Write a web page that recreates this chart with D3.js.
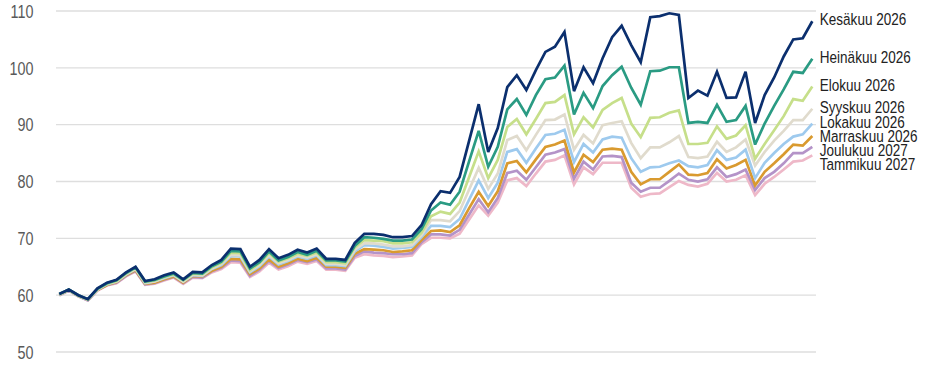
<!DOCTYPE html>
<html>
<head>
<meta charset="utf-8">
<script src="https://cdn.jsdelivr.net/npm/d3@7"></script>
<style>
  html, body { margin: 0; padding: 0; background: #fff; }
  svg { display: block; }
  text { font-family: "Liberation Sans", Arial, sans-serif; }
</style>
</head>
<body>
<svg id="chart" width="929" height="366"></svg>
<script>
// ---- Data ----
const seriesNames = ["Kesäkuu 2026", "Heinäkuu 2026", "Elokuu 2026", "Syyskuu 2026",
                     "Lokakuu 2026", "Marraskuu 2026", "Joulukuu 2027", "Tammikuu 2027"];
const yTicks = [50, 60, 70, 80, 90, 100, 110];

const kesakuu = [60.2, 61.0, 60.0, 59.3, 61.2, 62.2, 62.7, 64.0, 65.0, 62.5,
  62.8, 63.5, 64.0, 62.8, 64.1, 64.0, 65.3, 66.2, 68.2, 68.1,
  65.0, 66.2, 68.1, 66.5, 67.1, 68.0, 67.5, 68.2, 66.4, 66.4,
  66.2, 69.2, 70.8, 70.8, 70.6, 70.2, 70.2, 70.4, 72.3, 76.0,
  78.3, 78.0, 80.8, 87.2, 93.6, 85.2, 89.4, 96.6, 98.7, 96.1,
  99.6, 102.8, 103.7, 106.3, 95.9, 100.1, 97.3, 101.7, 105.4, 107.4,
  104.0, 101.0, 108.9, 109.1, 109.6, 109.3, 94.7, 96.0, 95.1, 99.3,
  94.7, 94.8, 99.3, 90.3, 95.2, 98.3, 102.0, 105.0, 105.2, 108.2];

const heinakuu = [60.2, 61.0, 60.0, 59.3, 61.1, 62.1, 62.6, 63.9, 64.9, 62.4,
  62.7, 63.3, 63.8, 62.7, 63.9, 63.8, 65.1, 65.9, 67.8, 67.7,
  64.7, 65.8, 67.7, 66.1, 66.7, 67.6, 67.1, 67.8, 66.1, 66.1,
  65.9, 68.7, 70.2, 70.1, 69.9, 69.6, 69.6, 69.8, 71.6, 74.9,
  76.3, 75.9, 78.2, 83.6, 88.9, 82.6, 86.1, 92.7, 94.5, 91.7,
  95.2, 98.0, 98.3, 100.4, 91.8, 95.6, 92.9, 96.8, 98.7, 100.2,
  96.5, 93.5, 99.4, 99.5, 100.1, 100.1, 90.3, 90.5, 90.3, 93.5,
  90.5, 90.8, 93.3, 86.5, 90.2, 93.3, 96.2, 99.3, 99.1, 101.6];

const elokuu = [60.1, 60.9, 59.9, 59.2, 61.1, 62.0, 62.5, 63.8, 64.8, 62.3,
  62.6, 63.2, 63.7, 62.6, 63.8, 63.7, 64.9, 65.7, 67.5, 67.4,
  64.4, 65.6, 67.4, 65.9, 66.5, 67.3, 66.9, 67.5, 65.8, 65.8,
  65.6, 68.4, 69.7, 69.6, 69.5, 69.1, 69.1, 69.3, 71.0, 73.9,
  74.7, 74.3, 76.3, 80.8, 85.3, 80.6, 83.8, 89.6, 91.0, 88.3,
  91.0, 93.8, 94.0, 95.2, 88.3, 91.3, 89.5, 92.6, 93.8, 94.7,
  90.2, 87.8, 91.2, 91.3, 92.1, 92.5, 86.6, 86.6, 86.8, 89.7,
  87.5, 88.1, 89.9, 84.0, 86.6, 89.0, 91.5, 94.5, 94.2, 96.7];

const syyskuu = [60.1, 60.9, 59.9, 59.2, 61.0, 62.0, 62.4, 63.7, 64.6, 62.2,
  62.4, 63.1, 63.6, 62.4, 63.6, 63.5, 64.7, 65.5, 67.1, 67.0,
  64.2, 65.3, 67.0, 65.6, 66.2, 67.0, 66.6, 67.2, 65.5, 65.5,
  65.3, 68.0, 69.1, 69.1, 68.9, 68.6, 68.6, 68.8, 70.5, 73.2,
  73.2, 73.0, 74.8, 78.6, 82.4, 78.7, 81.4, 87.3, 88.0, 85.5,
  88.2, 90.8, 90.9, 91.8, 85.6, 88.2, 86.7, 89.9, 90.3, 90.6,
  86.8, 84.1, 86.0, 86.0, 86.9, 88.0, 84.3, 84.1, 84.4, 87.0,
  85.2, 86.0, 87.4, 82.8, 85.2, 87.2, 88.9, 90.8, 90.8, 92.8];

const lokakuu = [60.1, 60.9, 59.9, 59.2, 61.0, 61.9, 62.4, 63.6, 64.6, 62.1,
  62.4, 63.0, 63.5, 62.4, 63.5, 63.4, 64.6, 65.3, 66.9, 66.8,
  64.0, 65.1, 66.8, 65.4, 66.0, 66.8, 66.4, 67.0, 65.3, 65.3,
  65.1, 67.7, 68.8, 68.7, 68.5, 68.2, 68.3, 68.5, 70.2, 72.2,
  72.2, 72.0, 73.4, 76.8, 80.2, 77.1, 79.8, 85.2, 85.7, 83.3,
  85.8, 88.2, 88.4, 89.1, 83.4, 86.6, 85.1, 87.4, 87.9, 87.7,
  84.1, 81.7, 82.5, 82.6, 83.2, 83.7, 82.7, 82.5, 82.9, 85.5,
  83.8, 84.2, 85.6, 80.6, 83.3, 85.0, 86.6, 87.9, 88.3, 90.2];

const marraskuu = [60.1, 60.9, 59.9, 59.2, 60.9, 61.8, 62.3, 63.5, 64.4, 62.0,
  62.2, 62.8, 63.3, 62.2, 63.4, 63.3, 64.3, 65.0, 66.4, 66.3,
  63.7, 64.7, 66.3, 65.0, 65.6, 66.4, 66.0, 66.6, 65.0, 65.0,
  64.8, 67.3, 68.1, 68.0, 67.9, 67.6, 67.7, 67.9, 69.7, 71.3,
  71.4, 71.1, 72.3, 75.3, 78.2, 75.7, 78.3, 83.2, 83.6, 81.6,
  83.9, 86.1, 86.5, 87.2, 81.6, 84.7, 83.4, 85.6, 85.8, 85.6,
  81.7, 79.5, 80.4, 80.4, 81.7, 83.0, 81.2, 81.1, 81.5, 83.9,
  82.3, 82.9, 83.8, 79.3, 81.7, 83.2, 84.8, 86.5, 86.3, 88.0];

const joulukuu = [60.0, 60.8, 59.8, 59.1, 60.9, 61.8, 62.2, 63.4, 64.3, 61.9,
  62.1, 62.7, 63.2, 62.1, 63.2, 63.1, 64.2, 64.8, 66.1, 66.0,
  63.4, 64.5, 66.0, 64.8, 65.4, 66.2, 65.8, 66.3, 64.7, 64.7,
  64.5, 66.9, 67.7, 67.5, 67.4, 67.2, 67.2, 67.4, 69.3, 70.7,
  70.7, 70.5, 71.5, 74.2, 76.9, 74.6, 77.1, 81.5, 81.9, 80.3,
  82.5, 84.7, 85.1, 85.7, 80.5, 83.5, 82.1, 84.4, 84.5, 84.3,
  79.8, 78.2, 78.9, 78.9, 80.1, 81.4, 80.3, 80.0, 80.4, 82.5,
  80.8, 81.3, 82.1, 78.5, 80.6, 81.7, 83.2, 85.0, 85.0, 86.1];

const tammikuu = [60.0, 60.8, 59.8, 59.1, 60.8, 61.7, 62.1, 63.3, 64.2, 61.8,
  62.0, 62.6, 63.1, 62.0, 63.1, 63.0, 64.0, 64.6, 65.8, 65.7,
  63.2, 64.2, 65.7, 64.5, 65.1, 65.9, 65.5, 66.0, 64.5, 64.5,
  64.3, 66.6, 67.2, 67.0, 66.9, 66.7, 66.8, 67.0, 69.0, 70.1,
  70.1, 70.0, 70.8, 73.3, 75.8, 74.0, 76.3, 80.2, 80.6, 79.2,
  81.4, 83.5, 83.8, 84.6, 79.5, 82.5, 81.3, 83.3, 83.3, 83.3,
  78.9, 77.3, 77.8, 77.9, 79.0, 80.1, 79.4, 79.1, 79.6, 81.5,
  80.0, 80.3, 81.1, 77.6, 79.6, 80.8, 82.1, 83.5, 83.7, 84.6];

const seriesValues = [kesakuu, heinakuu, elokuu, syyskuu, lokakuu, marraskuu, joulukuu, tammikuu];
const colors = ["#0b2f6e", "#2a9b83", "#c6df8a", "#e0dbcd", "#9ecaee", "#d99a2f", "#b493c8", "#eeb8c8"];

// ---- Chart ----
const svg = d3.select("#chart");
const narrow = 0.82;   // condensed look

const x = d3.scaleLinear().domain([0, kesakuu.length - 1]).range([59.3, 812.3]);
const y = d3.scaleLinear().domain([50, 110]).range([352, 11]);

// grid
svg.append("g").selectAll("line").data(yTicks).join("line")
  .attr("x1", 56).attr("x2", 816)
  .attr("y1", d => y(d)).attr("y2", d => y(d))
  .attr("stroke", "#dedede").attr("stroke-width", 1.4);

// y axis labels
const yAxis = d3.axisLeft(y).tickValues(yTicks).tickSize(0).tickPadding(0);
const ag = svg.append("g").attr("transform", "translate(33.5,0)").call(yAxis);
ag.select(".domain").remove();
ag.selectAll("text")
  .attr("x", 0)
  .attr("fill", "#595959")
  .attr("transform", `scale(${narrow},1)`)
  .style("font-size", "17.5px")
  .style("font-family", '"Liberation Sans", Arial, sans-serif')
  .attr("dy", "0.36em");

// lines
const line = d3.line().x((d, i) => x(i)).y(d => y(d));
const order = d3.range(seriesValues.length).reverse();
svg.append("g").selectAll("path").data(order).join("path")
  .attr("d", k => line(seriesValues[k]))
  .attr("fill", "none")
  .attr("stroke", k => colors[k])
  .attr("stroke-width", 2.7)
  .attr("stroke-linejoin", "miter")
  .attr("stroke-miterlimit", 3);

// end labels with simple collision avoidance
const last = kesakuu.length - 1;
const labelY = seriesValues.map(v => y(v[last]) - 2);
for (let i = 1; i < labelY.length; i++) {
  if (labelY[i] - labelY[i - 1] < 14.2) labelY[i] = labelY[i - 1] + 14.2;
}
svg.append("g").selectAll("text").data(seriesNames).join("text")
  .attr("transform", (d, i) => `translate(${x(last) + 7.5},${labelY[i]}) scale(${narrow},1)`)
  .attr("dominant-baseline", "central")
  .attr("fill", "#222")
  .style("font-size", "16.5px")
  .text(d => d);
</script>
</body>
</html>
